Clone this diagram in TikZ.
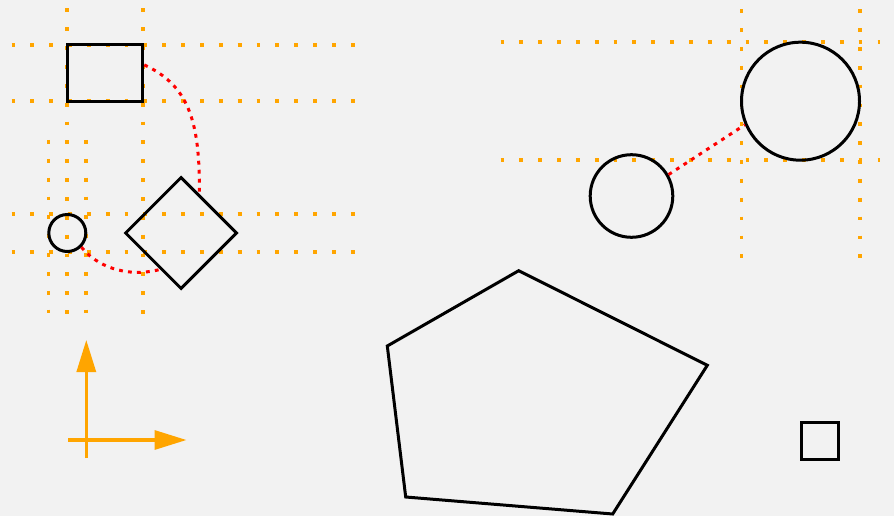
\documentclass[tikz,border=0pt]{standalone}
\usetikzlibrary{shapes.geometric,arrows.meta}
\definecolor{bgcol}{HTML}{F2F2F2}
\definecolor{guidecol}{RGB}{255,165,0}
\tikzset{
  guide/.style={draw=guidecol, line width=3.8pt, line cap=butt, dash pattern=on 3.8pt off 15.05pt},
  outline/.style={draw=black, line width=3pt, inner sep=0pt, fill=none},
  roundshape/.style={outline, circle},
  boxshape/.style={outline, rectangle},
  link/.style={draw=red, line width=3pt, line cap=butt, dash pattern=on 3.8pt off 5.2pt},
  axis/.style={draw=guidecol, line width=3.2pt, -{Triangle[length=32pt,width=19pt]}}
}
\begin{document}
\begin{tikzpicture}[x=1pt, y=-1pt]
  % canvas
  \fill[bgcol] (0,0) rectangle (894,516);
  \useasboundingbox (0,0) rectangle (894,516);

  % guide lines, left group
  \foreach \yy in {45,101,214,252}
    \draw[guide] (11.5,\yy) -- (356,\yy);
  \foreach \xx in {67,143}
    \draw[guide] (\xx,8.5) -- (\xx,314);
  \foreach \xx in {48.5,86.3}
    \draw[guide] (\xx,140) -- (\xx,314);

  % guide lines, right group
  \foreach \yy in {42,160}
    \draw[guide] (500.5,\yy) -- (880,\yy);
  \foreach \xx in {741.5,860.3}
    \draw[guide] (\xx,9.3) -- (\xx,258);

  % shapes
  \node[boxshape, minimum width=75.2pt, minimum height=56.4pt] (rect) at (105.2,73.2) {};
  \node[roundshape, minimum size=37pt] (dot) at (67.3,233) {};
  \node[outline, diamond, aspect=1, minimum size=112pt] (dia) at (181,233) {};
  \node[roundshape, minimum size=118pt] (big) at (800.5,101.2) {};
  \node[roundshape, minimum size=82.6pt] (small) at (631.5,196) {};
  \node[boxshape, minimum size=37pt] (sq) at (820,440.7) {};

  % pentagon
  \draw[line width=3pt, line join=miter]
    (518.7,270.7) -- (707.3,365.3) -- (612.7,514) -- (405.7,497) -- (387.3,346) -- cycle;

  % red connectors
  \draw[link] (rect.12) .. controls +(43,20) and +(1,-75) .. (dia.65);
  \draw[link] (dot.-45) .. controls +(14,18) and +(-35,9) .. (dia.240);
  \draw[link] (small.30) -- (big.203);

  % axes
  \coordinate (ox) at (68,440);
  \coordinate (xt) at (186.5,440);
  \coordinate (oy) at (86.3,458);
  \coordinate (yt) at (86.3,340);
  \draw[axis] (ox) -- (xt);
  \draw[axis] (oy) -- (yt);
\end{tikzpicture}
\end{document}
